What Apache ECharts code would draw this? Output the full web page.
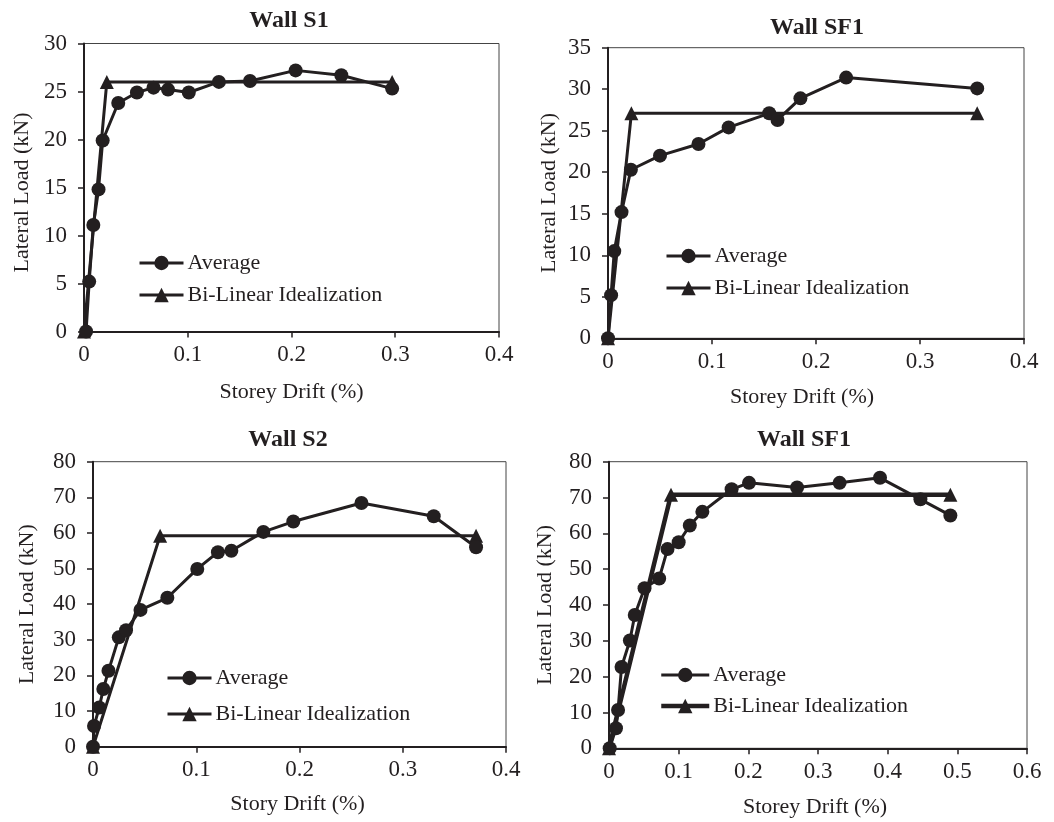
<!DOCTYPE html>
<html>
<head>
<meta charset="utf-8">
<script src="https://cdn.jsdelivr.net/npm/echarts@6/dist/echarts.min.js"></script>
<style>
html,body{margin:0;padding:0;background:#fff;}
#c{width:1054px;height:822px;}
</style>
</head>
<body>
<div id="c"></div>
<script>
// ---- Data ----
const titles = ['Wall S1', 'Wall SF1', 'Wall S2', 'Wall SF1'];
const xNames = ['Storey Drift (%)', 'Storey Drift (%)', 'Story Drift (%)', 'Storey Drift (%)'];
const yName = 'Lateral Load (kN)';
const legendNames = ['Average', 'Bi-Linear Idealization'];

// Wall S1
const s1AvgX = [0.002, 0.005, 0.009, 0.014, 0.018, 0.033, 0.051, 0.067, 0.081, 0.101, 0.130, 0.160, 0.204, 0.248, 0.297];
const s1AvgY = [0, 5.2, 11.1, 14.8, 19.9, 23.8, 24.9, 25.4, 25.2, 24.9, 26.0, 26.1, 27.2, 26.7, 25.3];
const s1BiX = [0, 0.022, 0.297];
const s1BiY = [0, 26.0, 26.0];

// Wall SF1 (top)
const sf1AvgX = [0, 0.003, 0.006, 0.013, 0.022, 0.050, 0.087, 0.116, 0.155, 0.163, 0.185, 0.229, 0.355];
const sf1AvgY = [0, 5.2, 10.5, 15.2, 20.3, 22.0, 23.4, 25.4, 27.1, 26.3, 28.9, 31.4, 30.1];
const sf1BiX = [0, 0.0225, 0.355];
const sf1BiY = [0, 27.1, 27.1];

// Wall S2
const s2AvgX = [0, 0.001, 0.006, 0.010, 0.015, 0.025, 0.032, 0.046, 0.072, 0.101, 0.121, 0.134, 0.165, 0.194, 0.260, 0.330, 0.371];
const s2AvgY = [0, 5.8, 11.0, 16.2, 21.3, 30.7, 32.7, 38.4, 41.8, 49.9, 54.6, 55.0, 60.3, 63.2, 68.4, 64.7, 56.0];
const s2BiX = [0, 0.065, 0.371];
const s2BiY = [0, 59.2, 59.2];

// Wall SF1 (bottom)
const sf1bAvgX = [0.001, 0.010, 0.013, 0.018, 0.030, 0.037, 0.051, 0.072, 0.084, 0.100, 0.116, 0.134, 0.176, 0.201, 0.270, 0.331, 0.389, 0.447, 0.490];
const sf1bAvgY = [0, 5.6, 10.7, 22.7, 30.1, 37.2, 44.7, 47.4, 55.6, 57.5, 62.2, 66.0, 72.3, 74.1, 72.8, 74.1, 75.5, 69.5, 65.0];
const sf1bBiX = [0, 0.089, 0.490];
const sf1bBiY = [0, 70.8, 70.8];

// Axis ranges
const xMax = [0.4, 0.4, 0.4, 0.6];
const yMax = [30, 35, 80, 80];
const yStep = [5, 5, 10, 10];

// ---- Layout ----
const FONT = '"Liberation Serif","Times New Roman",serif';
const INK = '#231f20';
const grids = [
  {left: 84, top: 43.5, width: 415, height: 288},
  {left: 608, top: 47.7, width: 416, height: 290.6},
  {left: 93, top: 461.7, width: 413, height: 285},
  {left: 609, top: 461.7, width: 418, height: 286.6}
];
const titlePos = [[289, 9], [817, 16], [288, 428], [804, 428]];
const yNameGap = [51, 48, 55, 53];
const xNameGap = [50, 48, 47, 48];
const xNamePad = [[0,0,0,0],[0,28,0,0],[0,4,0,0],[0,6,0,0]];
const yNamePad = [[0,10,0,0],[0,0,0,0],[0,0,0,0],[0,0,0,0]];
const legendPos = [[138, 251, 8, 44], [665, 244, 8, 44], [166, 666, 12, 44], [659, 663, 7, 48]];
const biWidth = [3, 3, 3, 4.5];

const pairs = (xs, ys) => xs.map((x, i) => [x, ys[i]]);
const panels = [
  [pairs(s1AvgX, s1AvgY), pairs(s1BiX, s1BiY)],
  [pairs(sf1AvgX, sf1AvgY), pairs(sf1BiX, sf1BiY)],
  [pairs(s2AvgX, s2AvgY), pairs(s2BiX, s2BiY)],
  [pairs(sf1bAvgX, sf1bAvgY), pairs(sf1bBiX, sf1bBiY)]
];

const option = {
  backgroundColor: '#fff',
  animation: false,
  title: titles.map((t, i) => ({
    text: t, left: titlePos[i][0], top: titlePos[i][1], textAlign: 'center', padding: 0,
    textStyle: {fontFamily: FONT, fontSize: 24, fontWeight: 'bold', color: INK}
  })),
  grid: grids.map(g => Object.assign({show: true, borderColor: '#444', borderWidth: 1, containLabel: false}, g)),
  legend: legendPos.map((p, i) => ({
    orient: 'vertical', left: p[0], top: p[1], itemGap: p[2], itemWidth: p[3], itemHeight: 18,
    padding: 0, selectedMode: false,
    data: legendNames.map((n, k) => ({
      name: n,
      lineStyle: {width: k === 1 ? biWidth[i] : 3, color: INK},
      itemStyle: {color: INK}
    })),
    textStyle: {fontFamily: FONT, fontSize: 22, lineHeight: 24, color: INK, padding: [0, 0, 0, -1]}
  })),
  xAxis: grids.map((g, i) => ({
    type: 'value', gridIndex: i, min: 0, max: xMax[i], interval: 0.1,
    name: xNames[i], nameLocation: 'middle', nameGap: xNameGap[i],
    nameTextStyle: {fontFamily: FONT, fontSize: 22, color: INK, padding: xNamePad[i]},
    axisLine: {show: true, onZero: false, lineStyle: {color: INK, width: 2}},
    axisTick: {show: true, inside: false, length: 6, lineStyle: {color: INK, width: 1.5}},
    axisLabel: {fontFamily: FONT, fontSize: 23, color: INK, margin: 12,
      formatter: v => String(+v.toFixed(1))},
    splitLine: {show: false}
  })),
  yAxis: grids.map((g, i) => ({
    type: 'value', gridIndex: i, min: 0, max: yMax[i], interval: yStep[i],
    name: yName, nameLocation: 'middle', nameGap: yNameGap[i],
    nameTextStyle: {fontFamily: FONT, fontSize: 22, color: INK, padding: yNamePad[i]},
    axisLine: {show: true, onZero: false, lineStyle: {color: INK, width: 2}},
    axisTick: {show: true, inside: false, length: 6, lineStyle: {color: INK, width: 1.5}},
    axisLabel: {fontFamily: FONT, fontSize: 23, color: INK, margin: 17},
    splitLine: {show: false}
  })),
  series: []
};

panels.forEach((p, i) => {
  option.series.push({
    name: legendNames[0], type: 'line', xAxisIndex: i, yAxisIndex: i, data: p[0],
    symbol: 'circle', symbolSize: 14, clip: false,
    lineStyle: {color: INK, width: 3}, itemStyle: {color: INK}, z: 3
  });
  option.series.push({
    name: legendNames[1], type: 'line', xAxisIndex: i, yAxisIndex: i, data: p[1],
    symbol: 'triangle', symbolSize: 14, clip: false,
    lineStyle: {color: INK, width: biWidth[i]}, itemStyle: {color: INK}, z: 2
  });
});

const chart = echarts.init(document.getElementById('c'), null, {renderer: 'canvas'});
chart.setOption(option);
</script>
</body>
</html>
